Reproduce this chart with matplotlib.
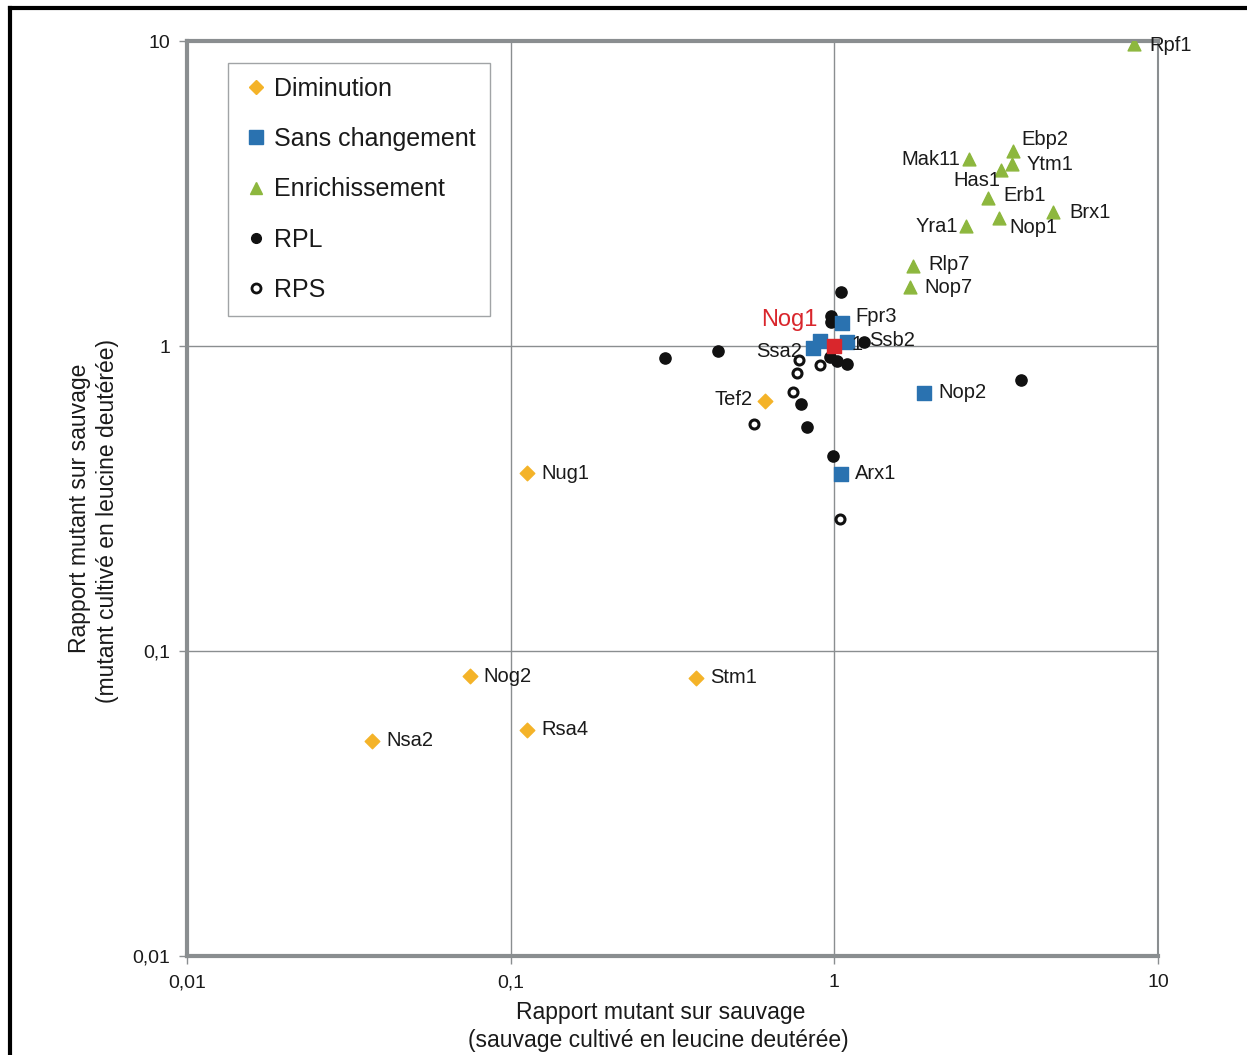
import matplotlib.pyplot as plt
from matplotlib.lines import Line2D

plt.rcParams["font.family"] = ["Liberation Sans", "DejaVu Sans"]

# Diminution (orange diamonds)
dim_names = ["Nsa2", "Nog2", "Rsa4", "Stm1", "Nug1", "Tef2"]
dim_x = [0.0373, 0.0748, 0.1123, 0.374, 0.1123, 0.611]
dim_y = [0.0507, 0.0828, 0.0551, 0.0815, 0.383, 0.660]

# Sans changement (blue squares)
same_names = ["Fpr3", "Ssa2", "", "Ssb2", "Nop2", "Arx1"]
same_x = [1.056, 0.859, 0.903, 1.094, 1.892, 1.049]
same_y = [1.19, 0.985, 1.039, 1.03, 0.701, 0.380]

# Nog1 (red square)
nog1_x = [1.0]
nog1_y = [1.0]

# Enrichissement (green triangles)
enr_names = ["Rpf1", "Ebp2", "Ytm1", "Has1", "Mak11", "Erb1", "Brx1",
             "Nop1", "Yra1", "Rlp7", "Nop7"]
enr_x = [8.43, 3.57, 3.54, 3.27, 2.61, 2.98, 4.74, 3.23, 2.55, 1.75, 1.71]
enr_y = [9.77, 4.36, 3.95, 3.78, 4.10, 3.06, 2.75, 2.63, 2.47, 1.83, 1.56]

# RPL (black filled circles)
rpl_x = [1.049, 0.977, 0.977, 0.300, 0.437, 1.235, 0.970, 1.019, 1.094,
         0.789, 0.823, 0.991, 3.77]
rpl_y = [1.50, 1.254, 1.199, 0.913, 0.963, 1.03, 0.920, 0.893, 0.873,
         0.645, 0.543, 0.436, 0.774]

# RPS (open circles)
rps_x = [0.778, 0.903, 0.767, 0.745, 0.565, 1.041]
rps_y = [0.90, 0.866, 0.816, 0.706, 0.555, 0.271]

# label offsets in pixels (dx, dy, ha)
offsets = {
    "Nsa2": (14, 0, "left"), "Nog2": (14, 0, "left"), "Rsa4": (14, 0, "left"),
    "Stm1": (14, 1, "left"), "Nug1": (14, 0, "left"), "Tef2": (-12, 2, "right"),
    "Fpr3": (13, 6, "left"), "Ssa2": (-11, -3, "right"), "Ssb2": (22, 2, "left"),
    "Nop2": (14, 1, "left"), "Arx1": (14, 1, "left"),
    "Rpf1": (15, -1, "left"), "Ebp2": (8, 11, "left"), "Ytm1": (15, 0, "left"),
    "Has1": (-1, -11, "right"), "Mak11": (-9, 0, "right"), "Erb1": (16, 2, "left"),
    "Brx1": (16, 0, "left"), "Nop1": (10, -10, "left"), "Yra1": (-8, 0, "right"),
    "Rlp7": (15, 1, "left"), "Nop7": (15, 0, "left"),
}

orange = "#F4B328"
blue = "#2A72B0"
green = "#8DB73E"
red = "#D9262C"
grey = "#8A8E90"
ink = "#1a1a1a"

fig = plt.figure(figsize=(12.47, 10.55), dpi=100)
ax = fig.add_axes([187 / 1247, 1 - 956 / 1055, 971 / 1247, 915 / 1055])
ax.set_xscale("log")
ax.set_yscale("log")
ax.set_xlim(0.01, 10)
ax.set_ylim(0.01, 10)

ax.grid(True, which="major", color=grey, lw=1)
ax.minorticks_off()
ticks = [0.01, 0.1, 1, 10]
tick_labels = ["0,01", "0,1", "1", "10"]
ax.set_xticks(ticks)
ax.set_xticklabels(tick_labels)
ax.set_yticks(ticks)
ax.set_yticklabels(tick_labels)
ax.tick_params(axis="both", length=6, width=1, color=grey, labelsize=14,
               labelcolor=ink, direction="out")
ax.tick_params(axis="x", pad=7)
ax.tick_params(axis="y", pad=6)
for side in ["left", "bottom", "top"]:
    ax.spines[side].set_color(grey)
    ax.spines[side].set_linewidth(3)
ax.spines["right"].set_color(grey)
ax.spines["right"].set_linewidth(1.5)

ax.scatter(rps_x, rps_y, marker="o", s=42, facecolor="white",
           edgecolor="#111111", linewidth=2.2, zorder=3)
ax.scatter(rpl_x, rpl_y, marker="o", s=65, color="#111111", zorder=3)
ax.scatter(dim_x, dim_y, marker="D", s=55, color=orange, zorder=4)
ax.scatter(same_x, same_y, marker="s", s=105, color=blue, zorder=4)
ax.scatter(enr_x, enr_y, marker="^", s=85, color=green, zorder=4)
ax.scatter(nog1_x, nog1_y, marker="s", s=105, color=red, zorder=5)

for names, xs, ys in [(dim_names, dim_x, dim_y), (same_names, same_x, same_y),
                      (enr_names, enr_x, enr_y)]:
    for n, x, y in zip(names, xs, ys):
        if n not in offsets:
            continue
        dx, dy, ha = offsets[n]
        ax.annotate(n, (x, y), xytext=(dx, dy), textcoords="offset pixels",
                    ha=ha, va="center", fontsize=14.5, color=ink, zorder=6,
                    annotation_clip=False)

# partly hidden label next to the central squares
ax.annotate("1", (1.094, 1.03), xytext=(5, -2), textcoords="offset pixels",
            ha="left", va="center", fontsize=14.5, color=ink, zorder=6)
ax.annotate("Nog1", (nog1_x[0], nog1_y[0]), xytext=(-17, 26),
            textcoords="offset pixels", ha="right", va="center",
            fontsize=17, color=red, zorder=6)

handles = [
    Line2D([], [], marker="D", ls="", color=orange, markersize=7),
    Line2D([], [], marker="s", ls="", color=blue, markersize=10),
    Line2D([], [], marker="^", ls="", color=green, markersize=9),
    Line2D([], [], marker="o", ls="", color="#111111", markersize=7),
    Line2D([], [], marker="o", ls="", markerfacecolor="white",
           markeredgecolor="#111111", markeredgewidth=2, markersize=6.5),
]
labels = ["Diminution", "Sans changement", "Enrichissement", "RPL", "RPS"]
leg = ax.legend(handles, labels, loc="upper left",
                bbox_to_anchor=((228 - 187) / 971, (956 - 63) / 915),
                fontsize=18, frameon=True, fancybox=False, borderpad=0.55,
                labelspacing=1.05, handletextpad=0.2, handlelength=1.1,
                borderaxespad=0)
leg.get_frame().set_edgecolor(grey)
leg.get_frame().set_linewidth(1)
for t in leg.get_texts():
    t.set_color(ink)

fig.text(661 / 1247, 1 - 1012 / 1055, "Rapport mutant sur sauvage",
         ha="center", va="center", fontsize=16.5, color=ink)
fig.text(658 / 1247, 1 - 1040 / 1055, "(sauvage cultivé en leucine deutérée)",
         ha="center", va="center", fontsize=16.5, color=ink)
fig.text(80 / 1247, 1 - 508 / 1055, "Rapport mutant sur sauvage",
         ha="center", va="center", rotation=90, fontsize=16.5, color=ink)
fig.text(108 / 1247, 1 - 521 / 1055, "(mutant cultivé en leucine deutérée)",
         ha="center", va="center", rotation=90, fontsize=16.5, color=ink)

# outer frame (left and top)
fig.add_artist(Line2D([10 / 1247, 10 / 1247], [0, 1 - 8 / 1055],
                      transform=fig.transFigure, color="black", lw=3))
fig.add_artist(Line2D([10 / 1247, 1], [1 - 8 / 1055, 1 - 8 / 1055],
                      transform=fig.transFigure, color="black", lw=3))

fig.savefig("out.png", dpi=100)
plt.close()
